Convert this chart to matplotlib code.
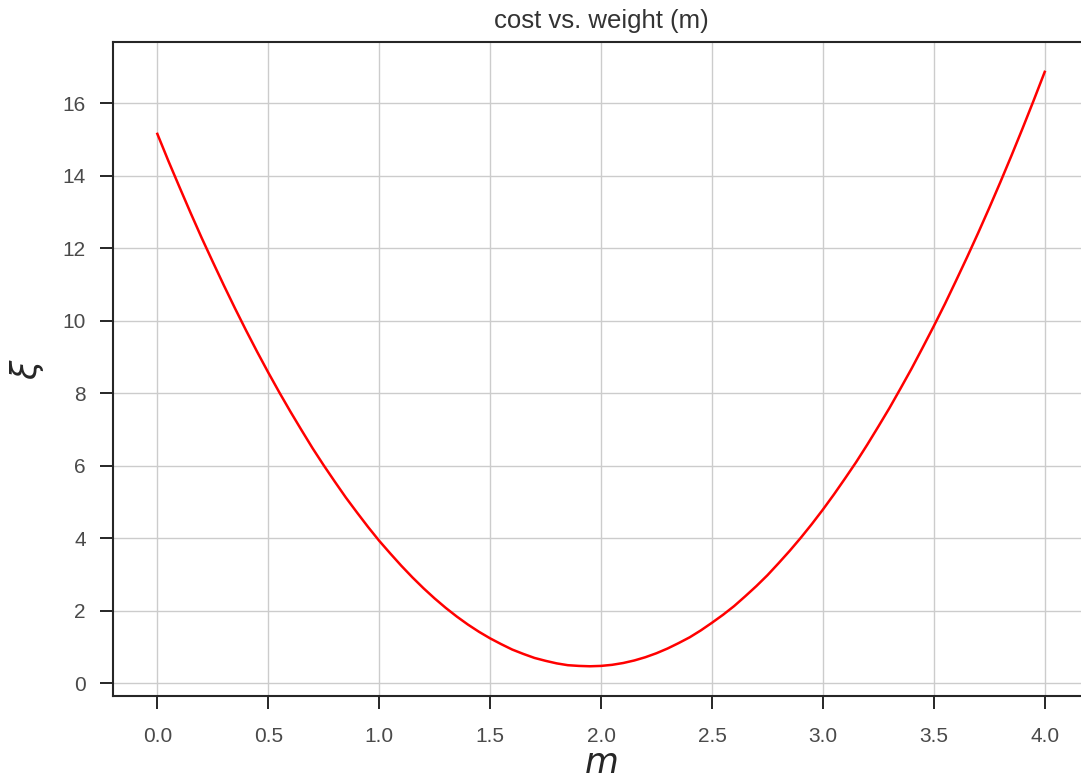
import numpy as np
import matplotlib
matplotlib.use("Agg")
import matplotlib.pyplot as plt

# sample positions along m (every 0.05) and the cost
weight = np.linspace(0.0, 4.0, 81)
cost = [15.15, 14.40, 13.68, 12.97, 12.28, 11.62, 10.97, 10.34, 9.73, 9.14,
        8.57, 8.02, 7.49, 6.98, 6.48, 6.01, 5.56, 5.12, 4.71, 4.31,
        3.93, 3.58, 3.24, 2.92, 2.62, 2.34, 2.08, 1.84, 1.62, 1.42,
        1.24, 1.08, 0.93, 0.81, 0.70, 0.62, 0.55, 0.50, 0.48, 0.47,
        0.48, 0.51, 0.56, 0.63, 0.72, 0.83, 0.96, 1.11, 1.27, 1.46,
        1.67, 1.89, 2.13, 2.40, 2.68, 2.98, 3.31, 3.65, 4.01, 4.39,
        4.79, 5.21, 5.65, 6.10, 6.58, 7.08, 7.59, 8.13, 8.68, 9.26,
        9.85, 10.46, 11.10, 11.75, 12.42, 13.11, 13.82, 14.55, 15.30, 16.07,
        16.86]

x_ticks = [0.0, 0.5, 1.0, 1.5, 2.0, 2.5, 3.0, 3.5, 4.0]
y_ticks = [0, 2, 4, 6, 8, 10, 12, 14, 16]

plt.rcParams['font.family'] = ['Liberation Sans', 'DejaVu Sans']
plt.rcParams['mathtext.fontset'] = 'dejavusans'

dark = '#262626'
fig = plt.figure(figsize=(10.81, 7.80), dpi=100)
ax = fig.add_axes([0.1045, 0.1077, 0.903, 0.8383])

ax.plot(weight, cost, color='red', lw=1.8)
ax.set_xticks(x_ticks)
ax.set_yticks(y_ticks)
ax.margins(0.05)
ax.grid(True, color='#cccccc', lw=1.0)
ax.set_axisbelow(True)

for s in ax.spines.values():
    s.set_color(dark)
    s.set_linewidth(1.5)
ax.tick_params(direction='out', length=9.5, width=1.4, color=dark,
               labelsize=15, labelcolor='#4a4a4a')
ax.tick_params(axis='x', pad=12.5)
ax.tick_params(axis='y', pad=10)

ax.set_title('cost vs. weight (m)', fontsize=18.5, color='#333333', pad=10)
ax.set_xlabel('$m$', fontsize=25, color=dark, labelpad=1)
ax.set_ylabel(r'$\xi$', fontsize=25, color=dark, labelpad=12)

fig.savefig('out.png', dpi=100)
